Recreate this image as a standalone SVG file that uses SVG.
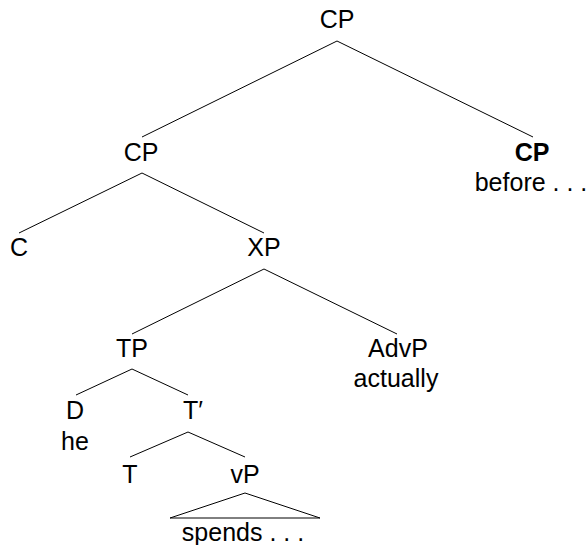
<svg xmlns="http://www.w3.org/2000/svg" width="588" height="545" viewBox="0 0 588 545">
<style>
text{font-family:"Liberation Sans",Arial,sans-serif;font-size:25px;fill:#000;text-anchor:middle}
.b{font-weight:bold}
.e{stroke:#000;stroke-width:1;fill:none}
</style>
<rect width="588" height="545" fill="#fff"/>
<g id="connectors">
<path class="e" d="M142,137 L337,41 L533,137"/>
<path class="e" d="M19,233 L142,173 L264,233"/>
<path class="e" d="M132,334 L264,269 L397,334"/>
<path class="e" d="M76,395 L132,369 L188,395"/>
<path class="e" d="M130,457 L188,432 L245,457"/>
<path class="e" d="M245,493 L320,518 L170,518 Z"/>
</g>
<g id="n-cp-root"><text x="337" y="28">CP</text></g>
<g id="n-cp1"><text x="141" y="161">CP</text></g>
<g id="n-cp2"><text class="b" x="532" y="161">CP</text><text x="531" y="191">before . . .</text></g>
<g id="n-c"><text x="19" y="256">C</text></g>
<g id="n-xp"><text x="264" y="256">XP</text></g>
<g id="n-tp"><text x="132" y="357">TP</text></g>
<g id="n-advp"><text x="398" y="357">AdvP</text><text x="396" y="387">actually</text></g>
<g id="n-d"><text x="75" y="419">D</text><text x="75" y="450">he</text></g>
<g id="n-tbar"><text x="183" y="419" style="text-anchor:start">T′</text></g>
<g id="n-t"><text x="130" y="483">T</text></g>
<g id="n-vp"><text x="245" y="483">vP</text><text x="243" y="541">spends . . .</text></g>
</svg>
